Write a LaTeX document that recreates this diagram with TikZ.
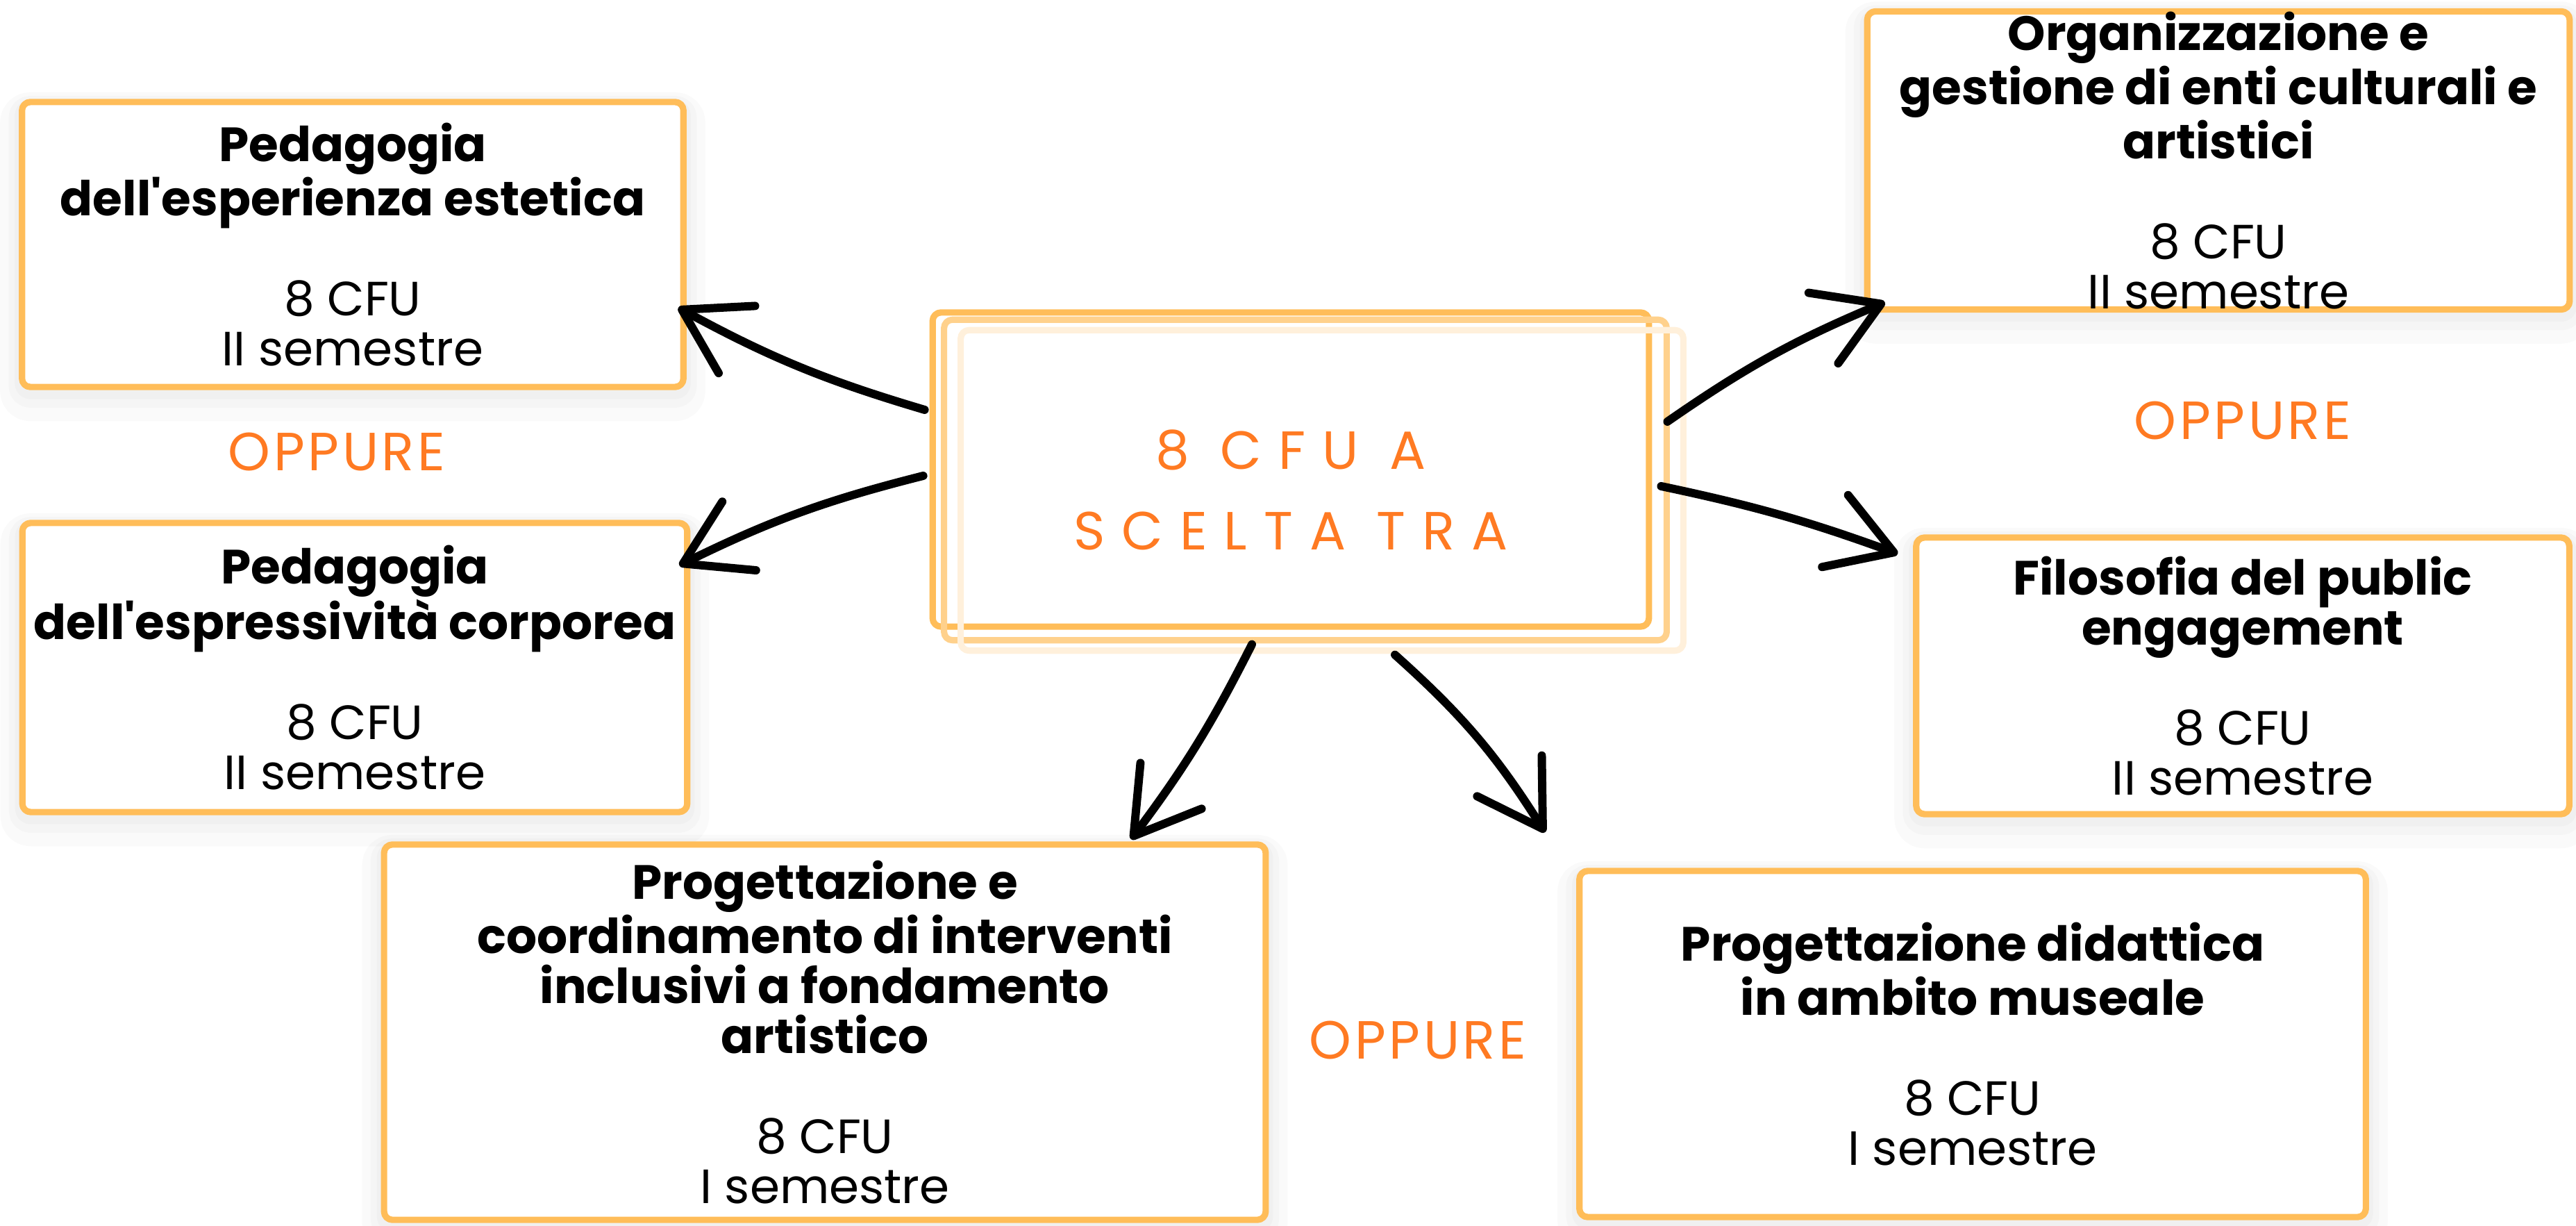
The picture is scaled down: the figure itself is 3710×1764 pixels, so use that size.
\documentclass[tikz,border=0pt]{standalone}
\usepackage{fontspec}
\setmainfont{Poppins}
\newfontfamily\handfont{Poppins}[LetterSpace=31]
\newfontfamily\orfont{Poppins}[LetterSpace=6]
\usetikzlibrary{arrows.meta}
\definecolor{boxline}{HTML}{FFBD59}
\definecolor{boxlineb}{HTML}{FFD18C}
\definecolor{boxlinec}{HTML}{FFF0DB}
\definecolor{hand}{HTML}{FF7A22}
\begin{document}
\begin{tikzpicture}[x=0.01cm,y=0.01cm,line join=round,line cap=round,>={Straight Barb[round,length=0.9cm,width=1.1cm]}]
	\tikzset{course/.style={draw=boxline,line width=2.6pt,rounded corners=0.12cm,fill=white,align=center,inner sep=0pt,font=\fontsize{19.7}{20.5}\selectfont,
			preaction={draw=black,opacity=0.02,line width=18pt,transform canvas={yshift=-5pt}},
			preaction={draw=black,opacity=0.02,line width=11pt,transform canvas={yshift=-3pt}},
			preaction={draw=black,opacity=0.02,line width=6pt,transform canvas={yshift=-2pt}}},
		pick/.style={->,line width=3.4pt},
		oppure/.style={text=hand,font=\orfont\fontsize{22}{22}\selectfont}}
	\useasboundingbox (0,0) rectangle (3710,1764);
	% left column
	\node[course,minimum width=9.52cm,minimum height=4.10cm] (estetica) at (508,1412) {\textbf{Pedagogia}\\\textbf{dell\textquotesingle esperienza estetica}\\[20.5pt]8 CFU\\II semestre};
	\node[course,minimum width=9.57cm,minimum height=4.16cm] (corporea) at (511,803) {\textbf{Pedagogia}\\\textbf{dell\textquotesingle espressività corporea}\\[20.5pt]8 CFU\\II semestre};
	\node[oppure] (orA) at (485,1113) {OPPURE};
	% bottom row
	\node[course,minimum width=12.69cm,minimum height=5.40cm] (inclusivi) at (1188,278) {\textbf{Progettazione e}\\\textbf{coordinamento di interventi}\\\textbf{inclusivi a fondamento}\\\textbf{artistico}\\[20.5pt]8 CFU\\I semestre};
	\node[course,minimum width=11.32cm,minimum height=4.98cm] (museale) at (2841,261) {\textbf{Progettazione didattica}\\\textbf{in ambito museale}\\[20.5pt]8 CFU\\I semestre};
	\node[oppure] (orB) at (2042,266) {OPPURE};
	% right column
	\node[course,minimum width=10.11cm,minimum height=4.29cm] (enti) at (3195,1533) {\textbf{Organizzazione e}\\\textbf{gestione di enti culturali e}\\\textbf{artistici}\\[20.5pt]8 CFU\\II semestre};
	\node[course,minimum width=9.40cm,minimum height=3.98cm] (engagement) at (3230,791) {\textbf{Filosofia del public}\\\textbf{engagement}\\[20.5pt]8 CFU\\II semestre};
	\node[oppure] (orC) at (3230,1158) {OPPURE};
	% centre
	\node[draw=boxline,line width=2.6pt,rounded corners=0.12cm,minimum width=10.31cm,minimum height=4.52cm,align=center,text=hand,font=\handfont\fontsize{22}{33}\selectfont] (choice) at (1859,1088) {\rule{0pt}{1.15cm}8 CFU A\\SCELTA TRA};
	\draw[boxlineb,line width=2.6pt,rounded corners=0.12cm] ([shift={(21,-15)}]choice.south west) rectangle ([shift={(21,-15)}]choice.north east);
	\draw[boxlinec,line width=2.6pt,rounded corners=0.12cm] ([shift={(45,-30)}]choice.south west) rectangle ([shift={(45,-30)}]choice.north east);
	% arrows
	\draw[pick] ([shift={(-7,86)}]choice.west) to[bend left=6] ([shift={(-12,-91)}]estetica.east);
	\draw[pick] ([shift={(-9,-9)}]choice.west) to[bend right=6] ([shift={(-16,147)}]corporea.east);
	\draw[pick] ([shift={(-56,-21)}]choice.south) to[bend left=5] ([shift={(441,3)}]inclusivi.north);
	\draw[pick] ([shift={(150,-36)}]choice.south) to[bend left=8] ([shift={(-45,51)}]museale.north west);
	\draw[pick] ([shift={(22,69)}]choice.east) to[bend left=6] ([shift={(30,15)}]enti.south west);
	\draw[pick] ([shift={(13,-24)}]choice.east) to[bend left=4] ([shift={(-22,-28)}]engagement.north west);
\end{tikzpicture}
\end{document}
